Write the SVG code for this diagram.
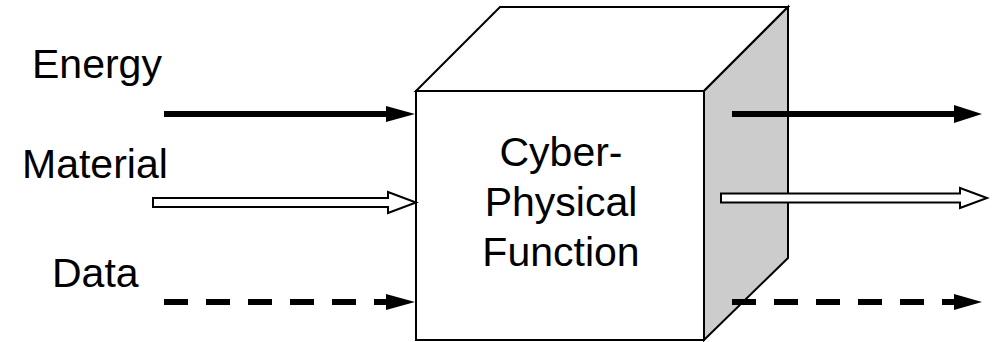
<svg xmlns="http://www.w3.org/2000/svg" width="992" height="342" viewBox="0 0 992 342">
<style>
.lbl{font-family:"Liberation Sans",Arial,sans-serif;font-size:41px;fill:#000}
.ctr{text-anchor:middle}
.edge{stroke:#000;stroke-width:2;stroke-linejoin:miter}
.solid{stroke:#000;stroke-width:6;fill:none}
.dash{stroke:#000;stroke-width:6;fill:none;stroke-dasharray:24 18}
.head{fill:#000}
.hollow{fill:#fff;stroke:#000;stroke-width:2}
</style>
<rect width="992" height="342" fill="#fff"/>
<g id="cube">
<polygon class="edge" fill="#fff" points="416,91 500,7 788,7 704,91"/>
<polygon class="edge" fill="#cccccc" points="704,91 788,7 788,258 704,340"/>
<rect class="edge" fill="#fff" x="416" y="91" width="288" height="249"/>
<text class="lbl ctr" x="561" y="166">Cyber-</text>
<text class="lbl ctr" x="561" y="216">Physical</text>
<text class="lbl ctr" x="561" y="266">Function</text>
</g>
<g id="label-energy"><text class="lbl" x="32" y="78">Energy</text></g>
<g id="label-material"><text class="lbl" x="22" y="178">Material</text></g>
<g id="label-data"><text class="lbl" x="52" y="287">Data</text></g>
<g id="connectors">
<line class="solid" x1="164" y1="114" x2="388" y2="114"/>
<polygon class="head" points="386,106 415,114 386,122"/>
<polygon class="hollow" points="153,198 388,198 388,192 416,202.5 388,213 388,207 153,207"/>
<line class="dash" x1="164" y1="302" x2="388" y2="302"/>
<polygon class="head" points="386,294 415,302 386,310"/>
<line class="solid" x1="732" y1="114" x2="956" y2="114"/>
<polygon class="head" points="954,105 982,114 954,123"/>
<polygon class="hollow" points="721,193.5 960,193.5 960,188 987,198 960,208 960,202.5 721,202.5"/>
<line class="dash" x1="732" y1="302" x2="956" y2="302"/>
<polygon class="head" points="954,294 982,302 954,310"/>
</g>
</svg>
